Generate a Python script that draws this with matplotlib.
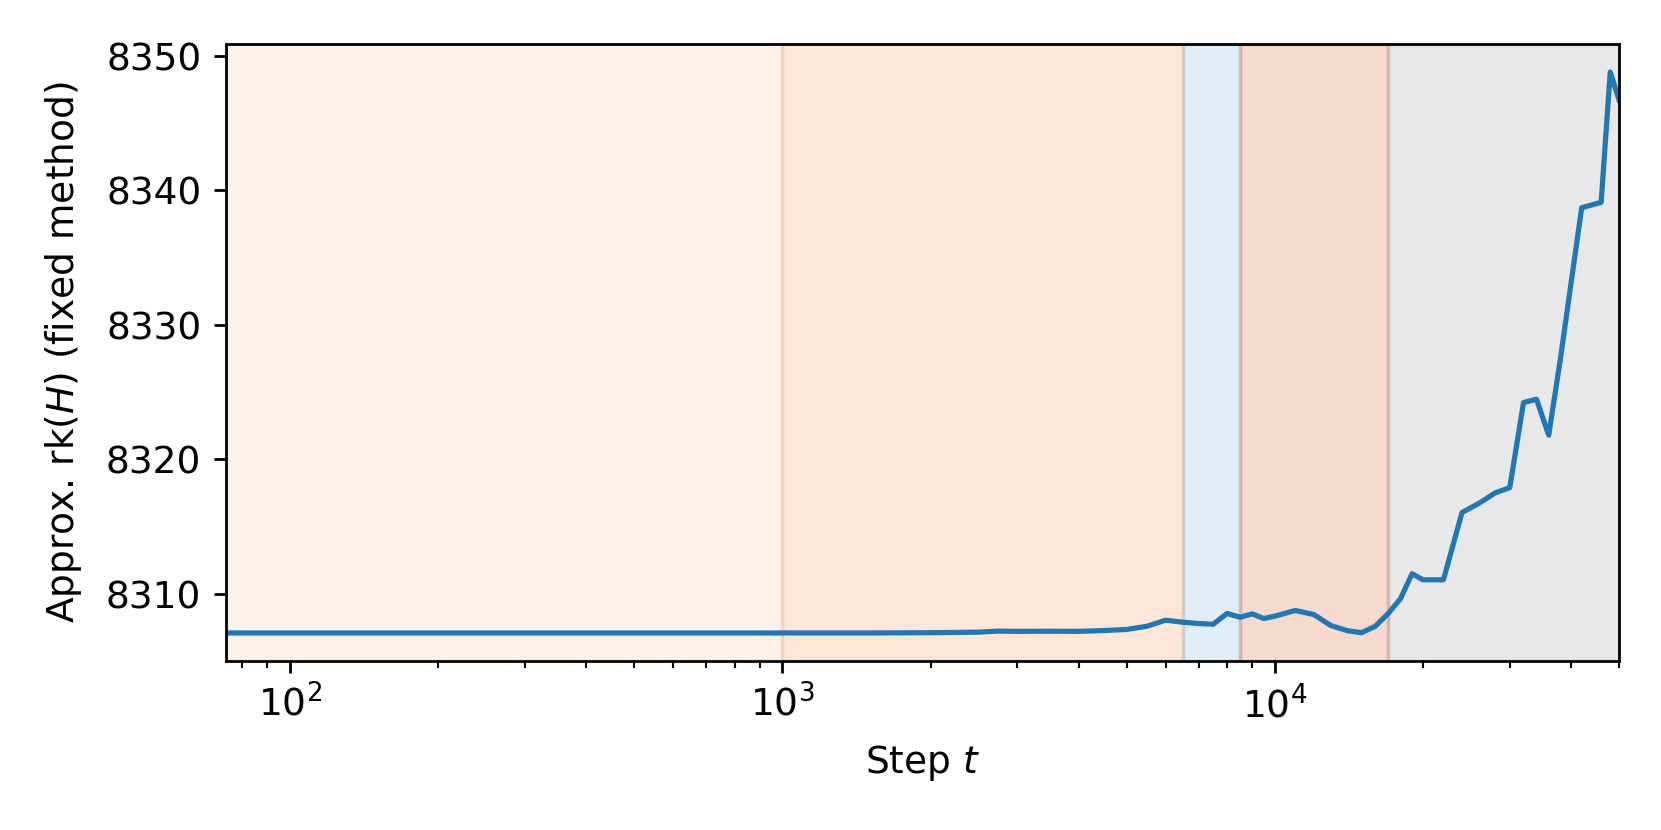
import matplotlib
matplotlib.use("Agg")
import matplotlib.pyplot as plt

# training steps and approximate rank of H
steps = [74, 100, 150, 200, 300, 400, 500, 600, 700, 800, 900, 1000,
         1250, 1500, 1750, 2000, 2250, 2500, 2750, 3000, 3500, 4000,
         4500, 5000, 5500, 6000, 6500, 7000, 7500, 8000, 8500, 9000,
         9500, 10000, 11000, 12000, 13000, 14000, 15000, 16000, 17000,
         18000, 19000, 20000, 22000, 24000, 26000, 28000, 30000, 32000,
         34000, 36000, 38000, 40000, 42000, 44000, 46000, 48000, 50000]
rank = [8307.10, 8307.10, 8307.10, 8307.10, 8307.10, 8307.10, 8307.10,
        8307.10, 8307.10, 8307.10, 8307.10, 8307.10, 8307.10, 8307.10,
        8307.11, 8307.12, 8307.14, 8307.16, 8307.24, 8307.22, 8307.23,
        8307.22, 8307.28, 8307.36, 8307.60, 8308.05, 8307.90, 8307.80,
        8307.75, 8308.55, 8308.27, 8308.52, 8308.17, 8308.35, 8308.77,
        8308.47, 8307.65, 8307.28, 8307.12, 8307.60, 8308.55, 8309.65,
        8311.50, 8311.05, 8311.05, 8316.05, 8316.74, 8317.50, 8317.90,
        8324.22, 8324.47, 8321.80, 8327.40, 8333.20, 8338.70, 8338.90,
        8339.10, 8348.78, 8346.72]

# phase boundaries (shaded regions)
phase_edges = [74, 1000, 6500, 8500, 17000, 50000]
phase_colors = ['#f5c396', '#fa873c', '#64a5cd', '#d24605', '#8c8c8c']

plt.rcParams['font.size'] = 10.8

fig = plt.figure(figsize=(6.644, 3.32), dpi=250)
ax = fig.add_subplot(111)
fig.subplots_adjust(left=0.1358, right=0.9747, top=0.947, bottom=0.2036)

for i in range(len(phase_colors)):
    ax.axvspan(phase_edges[i], phase_edges[i + 1], color=phase_colors[i], alpha=0.2)

ax.plot(steps, rank, color='tab:blue', lw=1.5)

ax.set_xscale('log')
ax.set_xlim(steps[0], steps[-1])
ax.set_xlabel('Step $t$', labelpad=5.2)
ax.set_ylabel('Approx. rk$(H)$ (fixed method)', labelpad=6.4)

plt.savefig('out.png', dpi=250)
